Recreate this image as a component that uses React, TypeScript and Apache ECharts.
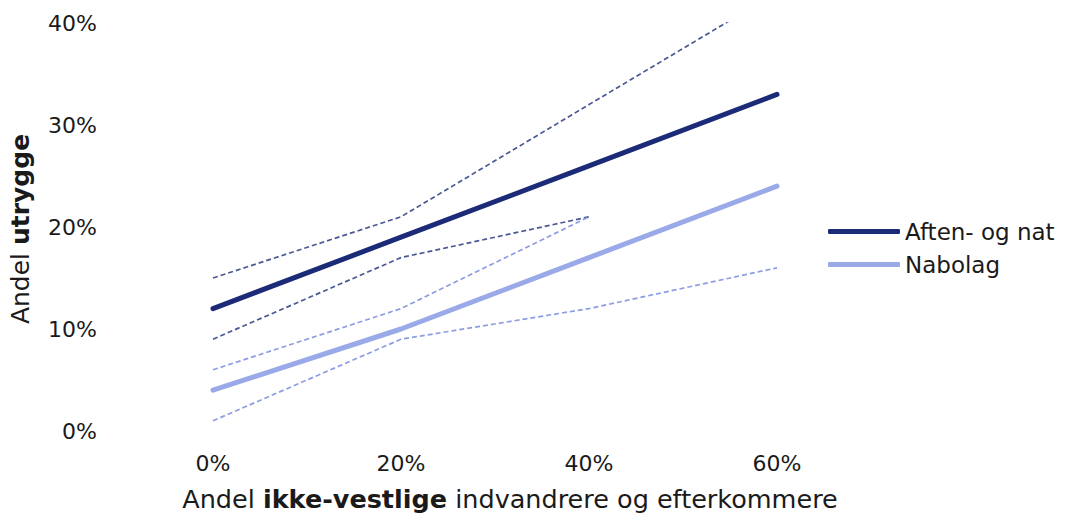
import React, { useEffect, useRef } from "react";
import * as echarts from "echarts";

const xValues = [0, 20, 40, 60];
const aftenNat = [12, 19, 26, 33];
const aftenNatUpper = [15, 21, 32, 43];
const aftenNatLower = [9, 17, 21];
const nabolag = [4, 10, 17, 24];
const nabolagUpper = [6, 12, 21];
const nabolagLower = [1, 9, 12, 16];

const DARK = "#1c2b78";
const DARK_DASH = "#4b5894";
const LIGHT = "#9aaae8";
const LIGHT_DASH = "#8e9de2";
const FONT = "DejaVu Sans";
const TXT = "#1a1a1a";

const pts = (ys: number[]) => ys.map((y, i) => [xValues[i], y]);

export default function App() {
  const ref = useRef<HTMLDivElement>(null);
  useEffect(() => {
    if (!ref.current) return;
    const chart = echarts.init(ref.current, undefined, { renderer: "svg" });
    const dashed = (name: string, data: number[], color: string) => ({
      name,
      type: "line",
      data: pts(data),
      symbol: "none",
      clip: true,
      lineStyle: { color, width: 1.7, type: [5, 3] },
      z: 1,
    });
    const richX = {
      n: { fontSize: 25.5, color: TXT, fontFamily: FONT },
      b: { fontSize: 25.5, color: TXT, fontWeight: "bold", fontFamily: FONT },
    };
    const richY = {
      n: { fontSize: 25, color: TXT, fontFamily: FONT },
      b: { fontSize: 25, color: TXT, fontWeight: "bold", fontFamily: FONT },
    };
    chart.setOption({
      animation: false,
      textStyle: { fontFamily: FONT },
      grid: { left: 213, right: 290, top: 23, bottom: 86, outerBoundsMode: "none", containLabel: false },
      legend: {
        data: ["Aften- og nat", "Nabolag"],
        orient: "vertical",
        left: 823,
        top: 215,
        icon: "roundRect",
        itemWidth: 72,
        itemHeight: 5,
        itemGap: 10,
        textStyle: { fontSize: 23, color: TXT, fontFamily: FONT },
      },
      xAxis: {
        type: "value",
        min: 0,
        max: 60,
        interval: 20,
        axisLine: { show: false },
        axisTick: { show: false },
        splitLine: { show: false },
        axisLabel: { formatter: "{value}%", fontSize: 22, color: TXT, margin: 21 },
        name: "{n|Andel }{b|ikke-vestlige}{n| indvandrere og efterkommere}",
        nameLocation: "middle",
        nameGap: 55,
        nameTextStyle: { rich: richX, padding: [0, 0, 0, 30] },
      },
      yAxis: {
        type: "value",
        min: 0,
        max: 40,
        interval: 10,
        axisLine: { show: false },
        axisTick: { show: false },
        splitLine: { show: false },
        axisLabel: { formatter: "{value}%", fontSize: 22, color: TXT, margin: 116 },
        name: "{n|Andel }{b|utrygge}",
        nameLocation: "middle",
        nameGap: 180,
        nameTextStyle: { rich: richY, padding: [0, 4, 0, 0] },
      },
      series: [
        dashed("Aften- og nat øvre", aftenNatUpper, DARK_DASH),
        dashed("Aften- og nat nedre", aftenNatLower, DARK_DASH),
        dashed("Nabolag øvre", nabolagUpper, LIGHT_DASH),
        dashed("Nabolag nedre", nabolagLower, LIGHT_DASH),
        {
          name: "Aften- og nat",
          type: "line",
          data: pts(aftenNat),
          symbol: "none",
          itemStyle: { color: DARK },
          lineStyle: { color: DARK, width: 5, cap: "round" },
          z: 3,
        },
        {
          name: "Nabolag",
          type: "line",
          data: pts(nabolag),
          symbol: "none",
          itemStyle: { color: LIGHT },
          lineStyle: { color: LIGHT, width: 5, cap: "round" },
          z: 3,
        },
      ],
    });
    return () => chart.dispose();
  }, []);
  return <div ref={ref} style={{ width: 1067, height: 517, position: "absolute", left: 0, top: 0 }} />;
}
